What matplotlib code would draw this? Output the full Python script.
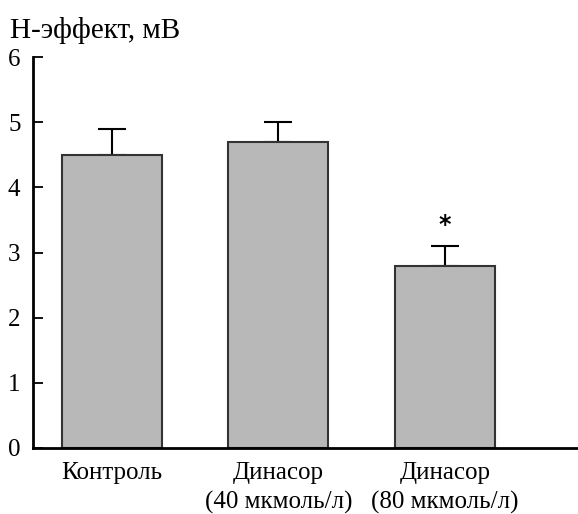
import numpy as np
import matplotlib.pyplot as plt

plt.rcParams['font.family'] = ['Liberation Serif', 'DejaVu Serif']

categories = ['Контроль', 'Динасор\n(40 мкмоль/л)', 'Динасор\n(80 мкмоль/л)']
values = [4.5, 4.7, 2.8]
errors = [0.4, 0.3, 0.3]
marks = ['', '', '*']

fig = plt.figure(figsize=(5.78, 5.14), dpi=100)
ax = fig.add_axes([33 / 578, 66 / 514, 1 - 33 / 578, 391 / 514])

x = np.arange(len(categories))
ax.bar(x, values, width=0.6, color='#b8b8b8', edgecolor='#333333', linewidth=1.5, zorder=2)
ax.errorbar(x, values, yerr=[np.zeros(len(errors)), errors], fmt='none', ecolor='black',
            elinewidth=1.5, capsize=10, capthick=1.5, zorder=1)
for xi, v, e, m in zip(x, values, errors, marks):
    if m:
        ax.text(xi, v + e + 0.14, m, ha='center', va='bottom', fontsize=17,
                fontweight='bold', fontfamily='DejaVu Sans')

ax.set_xlim(-0.474, 2.8)
ax.set_ylim(0, 6)
ax.set_yticks(range(7))
ax.set_xticks(x)
ax.set_xticklabels(categories, fontsize=18, linespacing=1.4)
ax.tick_params(axis='y', labelsize=18, length=7.5, width=1.3, direction='in', pad=9)
ax.tick_params(axis='x', length=0, pad=10)
for s in ['top', 'right']:
    ax.spines[s].set_visible(False)
for s in ['left', 'bottom']:
    ax.spines[s].set_linewidth(2)

fig.text(10 / 578, 1 - 30 / 514, 'Н-эффект, мВ', fontsize=21, va='center', ha='left')

fig.savefig('out.png', dpi=100)
